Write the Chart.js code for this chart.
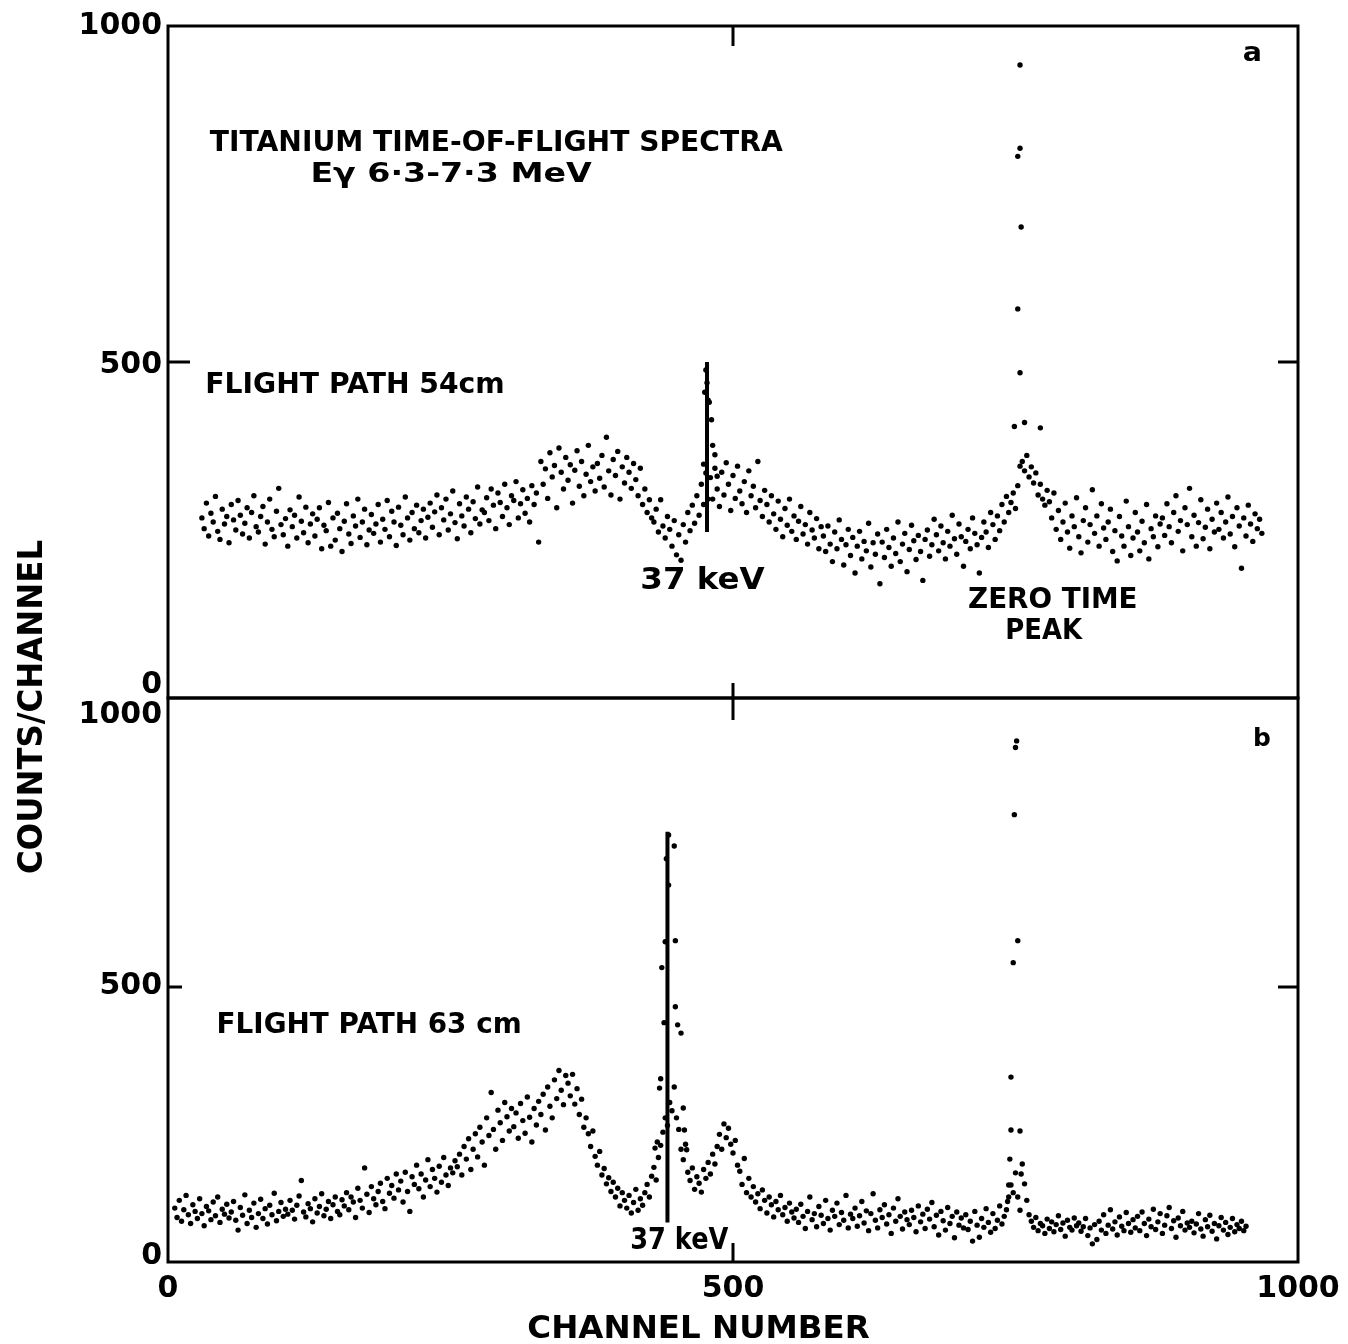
<!DOCTYPE html>
<html>
<head>
<meta charset="utf-8">
<script src="https://cdn.jsdelivr.net/npm/chart.js@4.4.0/dist/chart.umd.min.js"></script>
<style>
  body { margin: 0; background: #fff; }
  #wrap { position: relative; width: 1348px; height: 1344px; }
  canvas { position: absolute; left: 0; top: 0; }
</style>
</head>
<body>
<div id="wrap">
  <canvas id="chartA" width="1348" height="1344"></canvas>
  <canvas id="chartB" width="1348" height="1344"></canvas>
</div>
<script>
// tick labels
const xTicks = [0, 500, 1000]
const yTicks = [0, 500, 1000]

// panel a: flight path 54 cm, one value every 2nd channel from channel 30
const startA = 30, stepA = 2
const countsA = [
  268, 252, 290, 241, 275, 262, 300, 248, 236, 281, 259, 270, 231, 288, 265, 250, 294, 272, 244, 260, 283, 238, 276, 301, 255,
  247, 270, 285, 229, 262, 296, 251, 240, 278, 312, 258, 243, 267, 226, 280, 255, 272, 238, 299, 263, 246, 284, 231, 259, 274,
  241, 266, 283, 222, 257, 249, 291, 226, 268, 235, 275, 252, 218, 263, 289, 244, 230, 271, 256, 296, 239, 262, 281, 228, 250,
  273, 245, 259, 288, 232, 266, 251, 294, 240, 278, 262, 227, 284, 257, 243, 299, 268, 235, 276, 252, 287, 246, 264, 281, 238,
  269, 290, 254, 277, 302, 243, 283, 265, 296, 250, 274, 308, 261, 237, 289, 271, 256, 299, 281, 246, 292, 267, 314, 259, 280,
  276, 298, 264, 311, 287, 252, 305, 291, 270, 318, 283, 258, 301, 294, 322, 268, 289, 310, 275, 297, 262, 316, 288, 305, 232,
  352, 318, 341, 297, 365, 329, 346, 283, 372, 336, 311, 358, 324, 347, 290, 339, 368, 315, 352, 301, 333, 376, 322, 344, 308,
  349, 327, 361, 314, 388, 338, 302, 355, 331, 367, 296, 344, 320, 358, 336, 312, 349, 325, 301, 342, 288, 311, 276, 295, 268,
  262, 281, 247, 295, 256, 238, 270, 251, 226, 264, 213, 243, 205, 258, 232, 276, 249, 287, 260, 301, 272, 318, 288, 335, 296,
  328, 296, 342, 311, 285, 336, 302, 350, 318, 279, 331, 297, 345, 308, 289, 322, 276, 338, 301, 315, 283, 352, 294, 270, 309,
  288, 262, 301, 274, 251, 293, 266, 240, 282, 257, 296, 248, 271, 236, 263, 285, 244, 258, 229, 276, 250, 238, 267, 222, 255,
  241, 218, 256, 229, 203, 247, 222, 265, 236, 198, 228, 251, 212, 239, 186, 226, 248, 207, 233, 219, 260, 195, 231, 214, 244,
  170, 232, 209, 251, 224, 196, 238, 215, 262, 203, 229, 245, 188, 221, 257, 234, 206, 242, 218, 175, 236, 250, 211, 228, 266,
  243, 219, 256, 231, 207, 248, 226, 272, 237, 214, 259, 240, 196, 233, 251, 222, 268, 245, 228, 186, 239, 262, 247, 224, 276,
  258, 236, 271, 249, 288, 262, 300, 276, 291, 305, 282, 316, 345, 352, 338, 361, 329, 344, 320, 335, 302, 318, 296, 287, 309,
  292, 268, 305, 251, 279, 236, 262, 290, 247, 223, 271, 255, 298, 240, 216, 264, 283, 232, 258, 310, 245, 271, 226, 289, 253,
  236, 262, 281, 218, 249, 204, 270, 241, 226, 293, 255, 212, 238, 276, 247, 219, 263, 231, 288, 207, 252, 240, 271, 225, 259,
  268, 242, 289, 255, 231, 276, 301, 248, 264, 219, 283, 258, 312, 240, 272, 226, 261, 295, 237, 254, 281, 222, 266, 247, 290,
  251, 276, 238, 262, 299, 244, 270, 225, 283, 256, 193, 268, 241, 287, 259, 233, 274, 252, 266, 245
]
// points in the narrow peaks of panel a
const keVPeakChA = [476, 477, 475, 478, 479, 481, 482, 474, 484, 486]
const keVPeakA = [488, 469, 455, 443, 440, 414, 376, 348, 362, 330]
const zeroPeakChA = [754, 752, 754, 755, 752, 754, 749, 758, 772]
const zeroPeakA = [942, 806, 818, 701, 579, 484, 404, 410, 402]
const keVLineA = [477, 247, 500] // channel, from, to

// panel b: flight path 63 cm, one value every 2nd channel from channel 6
const startB = 6, stepB = 2
const countsB = [
  98, 81, 112, 74, 95, 121, 86, 70, 104, 92, 79, 115, 88, 66, 101, 93, 77, 109, 84, 118, 72, 96, 87, 105, 80,
  91, 110, 76, 58, 99, 85, 122, 70, 94, 81, 107, 63, 88, 114, 79, 97, 69, 103, 86, 125, 75, 92, 108, 83, 96,
  87, 112, 94, 78, 103, 120, 148, 91, 82, 106, 97, 73, 115, 89, 101, 124, 84, 96, 110, 79, 104, 118, 92, 86, 113,
  102, 126, 95, 118, 109, 81, 134, 112, 98, 171, 123, 90, 137, 115, 104, 128, 143, 110, 97, 152, 125, 139, 116, 160, 131,
  147, 109, 163, 128, 92, 155, 141, 176, 133, 160, 118, 149, 186, 137, 168, 152, 127, 174, 145, 190, 158, 139, 171, 162, 184,
  173, 196, 158, 210, 187, 224, 168, 205, 233, 191, 245, 218, 176, 262, 230, 308, 241, 205, 276, 253, 221, 290, 264, 238, 279,
  246, 271, 225, 288, 257, 234, 300, 263, 218, 279, 249, 292, 268, 305, 240, 318, 283, 262, 331, 297, 348, 312, 286, 339, 325,
  302, 341, 287, 315, 268, 296, 245, 262, 233, 210, 238, 192, 176, 201, 158, 170, 142, 153, 128, 145, 118, 134, 102, 126, 112,
  98, 121, 89, 108, 132, 94, 115, 103, 126, 141, 118, 156, 172, 149, 190, 212, 236, 262, 248, 290, 275, 318, 262, 241, 205,
  186, 214, 163, 148, 171, 132, 155, 143, 127, 168, 152, 181, 160, 196, 178, 210, 232, 205, 251, 226, 243, 214, 198, 221, 176,
  165, 141, 188, 126, 152, 118, 137, 109, 124, 97, 131, 112, 89, 118, 104, 82, 110, 95, 121, 86, 99, 74, 107, 91, 80,
  96, 72, 105, 83, 61, 92, 118, 77, 88, 64, 101, 85, 70, 112, 79, 58, 94, 83, 107, 68, 90, 76, 121, 62, 87,
  79, 98, 65, 84, 110, 71, 93, 57, 88, 124, 76, 62, 95, 81, 104, 69, 86, 52, 98, 74, 115, 83, 60, 91, 77,
  68, 94, 81, 55, 102, 73, 87, 61, 96, 78, 108, 64, 85, 49, 92, 75, 58, 99, 70, 83, 44, 91, 67, 80, 62,
  86, 59, 74, 38, 92, 67, 45, 79, 63, 97, 72, 54, 88, 61, 76, 102, 69, 83, 95, 118, 140, 126, 162, 118, 94,
  178, 142, 112, 86, 74, 63, 81, 57, 70, 66, 52, 78, 61, 73, 55, 68, 84, 59, 71, 47, 76, 63, 58, 80, 66,
  71, 56, 64, 79, 48, 62, 33, 68, 41, 74, 58, 86, 52, 67, 95, 60, 73, 49, 82, 65, 57, 90, 70, 54, 77,
  62, 83, 57, 91, 70, 48, 78, 64, 96, 59, 73, 88, 52, 67, 84, 99, 61, 75, 45, 80, 66, 92, 58, 71, 63,
  74, 53, 69, 88, 60, 47, 77, 64, 85, 56, 70, 42, 66, 81, 58, 72, 50, 63, 79, 55, 68, 61, 74, 57, 65
]
const keVPeakChB = [443, 448, 441, 443, 440, 449, 437, 449, 439, 451, 454, 436, 435, 433, 431, 456, 457, 459]
const keVPeakB = [776, 756, 733, 685, 582, 584, 535, 464, 435, 431, 416, 333, 316, 218, 207, 280, 240, 204]
const zeroPeakChB = [751, 750, 749, 752, 748, 746, 746, 754, 745, 744, 755, 743]
const zeroPeakB = [947, 935, 813, 584, 544, 336, 240, 238, 187, 140, 160, 110]
const keVLineB = [442, 72, 782]

function stepped(start, step, counts) {
  return counts.map((c, i) => ({ x: start + i * step, y: c }))
}
function paired(chs, counts) {
  return chs.map((ch, i) => ({ x: ch, y: counts[i] }))
}
function dots(data) {
  return { data, pointRadius: 2.7, pointBackgroundColor: '#000', pointBorderWidth: 0, showLine: false }
}
function marker(m) {
  return { data: [{ x: m[0], y: m[1] }, { x: m[0], y: m[2] }], showLine: true,
    borderColor: '#000', borderWidth: 4, pointRadius: 0 }
}

const FONT = '"DejaVu Sans"'

// text stretched to fill x0..x1, centred vertically on cy (cap height)
function fitText(ctx, text, x0, x1, cy, cap) {
  ctx.save()
  ctx.font = 'bold ' + Math.round(cap / 0.73) + 'px ' + FONT
  const w = ctx.measureText(text).width
  ctx.translate(x0, cy + cap / 2)
  ctx.scale((x1 - x0) / w, 1)
  ctx.textAlign = 'left'
  ctx.textBaseline = 'alphabetic'
  ctx.fillStyle = '#000'
  ctx.fillText(text, 0, 0)
  ctx.restore()
}

function tickText(ctx, text, x, cy, cap, align) {
  ctx.save()
  ctx.font = 'bold ' + Math.round(cap / 0.73) + 'px ' + FONT
  ctx.textAlign = align
  ctx.textBaseline = 'alphabetic'
  ctx.fillStyle = '#000'
  ctx.fillText(text, x, cy + cap / 2)
  ctx.restore()
}

function frame(chart, lens, nudges) {
  const { ctx, chartArea: a, scales: { x, y } } = chart
  ctx.save()
  ctx.strokeStyle = '#000'
  ctx.lineWidth = 3
  ctx.strokeRect(a.left, a.top, a.right - a.left, a.bottom - a.top)
  const tx = x.getPixelForValue(500), ty = y.getPixelForValue(500)
  ctx.beginPath()
  ctx.moveTo(tx, a.top); ctx.lineTo(tx, a.top + lens[0])
  ctx.moveTo(tx, a.bottom); ctx.lineTo(tx, a.bottom - lens[1])
  ctx.moveTo(a.left, ty); ctx.lineTo(a.left + lens[2], ty)
  ctx.moveTo(a.right, ty); ctx.lineTo(a.right - lens[3], ty)
  ctx.stroke()
  ctx.restore()
  yTicks.forEach((v, i) => {
    tickText(ctx, String(v), a.left - 6, y.getPixelForValue(v) + nudges[i], 22, 'right')
  })
}

function makeChart(id, pad, yMax, datasets, extras) {
  return new Chart(document.getElementById(id), {
    type: 'scatter',
    data: { datasets },
    options: {
      responsive: false,
      animation: false,
      devicePixelRatio: 1,
      events: [],
      layout: { padding: pad },
      plugins: { legend: { display: false }, tooltip: { enabled: false } },
      scales: {
        x: { type: 'linear', min: 0, max: 1000, display: false },
        y: { type: 'linear', min: 0, max: yMax, display: false }
      }
    },
    plugins: [{ id: 'extras' + id, afterDraw: extras }]
  })
}

makeChart('chartA', { left: 168, top: 26, right: 50, bottom: 646 }, 1000, [
  dots(stepped(startA, stepA, countsA)),
  dots(paired(keVPeakChA, keVPeakA)),
  dots(paired(zeroPeakChA, zeroPeakA)),
  marker(keVLineA)
], chart => {
  const { ctx, scales: { x, y } } = chart
  frame(chart, [20, 15, 22, 20], [-16, 0, -3])
  const labels = [
    ['TITANIUM TIME-OF-FLIGHT SPECTRA', 37, 544, 829, 21],
    ['Eγ 6·3-7·3 MeV', 126, 375, 783, 20],
    ['FLIGHT PATH 54cm', 33, 298, 469, 21],
    ['37 keV', 418, 528, 179, 22],
    ['ZERO TIME', 708, 858, 149, 21],
    ['PEAK', 741, 809, 104, 21]
  ]
  labels.forEach(l => fitText(ctx, l[0], x.getPixelForValue(l[1]), x.getPixelForValue(l[2]), y.getPixelForValue(l[3]), l[4]))
  fitText(ctx, 'a', x.getPixelForValue(951), x.getPixelForValue(968), y.getPixelForValue(957) - 4, 20)
})

makeChart('chartB', { left: 168, top: 698, right: 50, bottom: 82 }, 1025, [
  dots(stepped(startB, stepB, countsB)),
  dots(paired(keVPeakChB, keVPeakB)),
  dots(paired(zeroPeakChB, zeroPeakB)),
  marker(keVLineB)
], chart => {
  const { ctx, chartArea: a, scales: { x, y } } = chart
  frame(chart, [22, 19, 14, 20], [-9, -4, 0])
  const labels = [
    ['FLIGHT PATH 63 cm', 43, 313, 436, 21],
    ['37 keV', 409, 496, 44, 22]
  ]
  labels.forEach(l => fitText(ctx, l[0], x.getPixelForValue(l[1]), x.getPixelForValue(l[2]), y.getPixelForValue(l[3]), l[4]))
  tickText(ctx, 'b', x.getPixelForValue(968), y.getPixelForValue(955), 18, 'center')
  xTicks.forEach(v => tickText(ctx, String(v), x.getPixelForValue(v), a.bottom + 24, 22, 'center'))
  fitText(ctx, 'CHANNEL NUMBER', x.getPixelForValue(318), x.getPixelForValue(621), a.bottom + 64, 23)
  // y title spans both panels
  ctx.save()
  ctx.translate(30, a.top + 9)
  ctx.rotate(-Math.PI / 2)
  fitText(ctx, 'COUNTS/CHANNEL', -167, 167, 0, 24)
  ctx.restore()
})
</script>
</body>
</html>
